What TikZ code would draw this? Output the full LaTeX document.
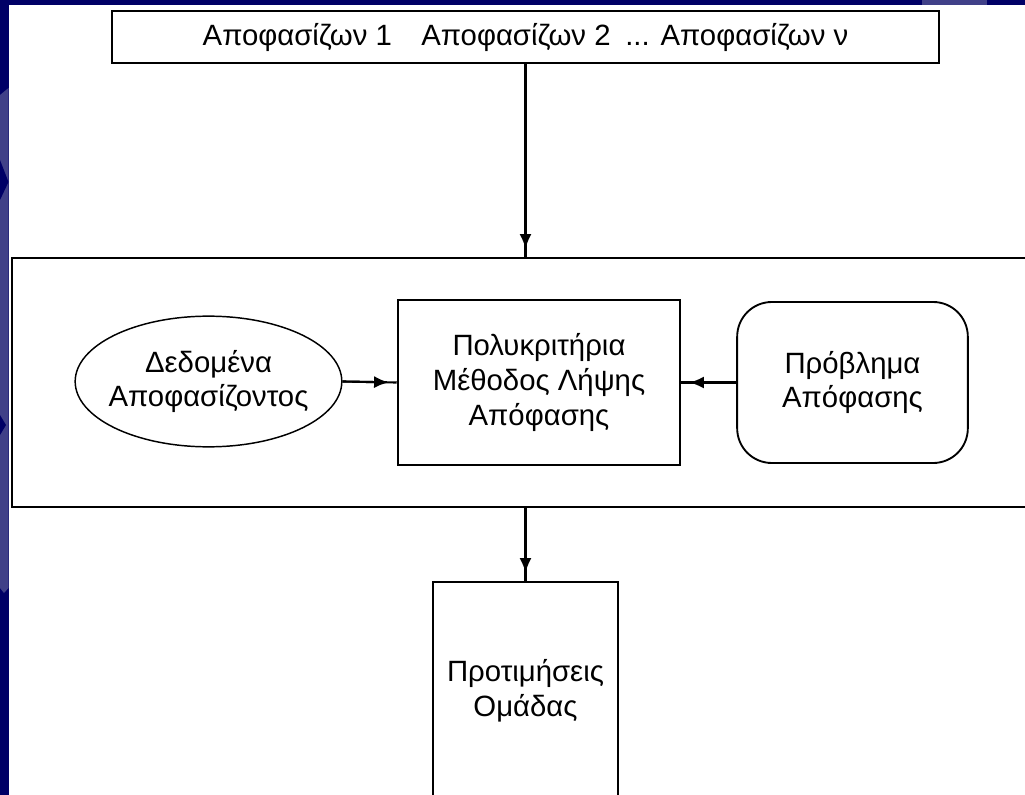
\documentclass[tikz,border=0pt]{standalone}
\usepackage{fontspec}
\setmainfont{Liberation Sans}
\usetikzlibrary{shapes.geometric,arrows.meta}
\definecolor{navy}{RGB}{0,0,102}
\definecolor{slideblue}{RGB}{64,64,136}

\begin{document}
\begin{tikzpicture}[x=0.75pt,y=-0.75pt]

	\tikzset{box/.style={draw,line width=1.9pt,align=center,inner sep=0pt,font=\fontsize{22}{26}\selectfont}}
	\tikzset{link/.style={line width=1.6pt}}
	\tikzset{head/.style={-{Latex[length=11pt,width=9pt]},shorten >=6pt}}

	\useasboundingbox (0,0) rectangle (1025,795);
	\fill[white] (0,0) rectangle (1025,795);

	% slide border
	\fill[navy] (0,0) rectangle (1025,5);
	\fill[navy] (0,0) rectangle (8.5,795);
	\fill[slideblue] (0,95) -- (8.5,88) -- (8.5,588) -- (4,593) -- (0,588) -- cycle;
	\fill[navy] (0,160) -- (8.5,182) -- (0,200) -- cycle;
	\fill[navy] (0,415) -- (6,425) -- (0,435) -- cycle;
	\fill[slideblue] (922,0) rectangle (987,5);

	% decision makers
	\node[box,minimum width=620pt,minimum height=39pt] (deciders) at (525.5,37) {Αποφασίζων 1\quad Αποφασίζων 2\enspace ... Αποφασίζων ν};

	% group system
	\node[box,minimum width=771pt,minimum height=186.75pt] (system) at (526,382.5) {};
	\node[box,ellipse,line width=1.1pt,inner xsep=-12pt,minimum width=200pt,minimum height=98pt] (data) at (208.5,381.5) {Δεδομένα\\Αποφασίζοντος};
	\node[box,minimum width=211.5pt,minimum height=123.75pt] (method) at (539,382.5) {Πολυκριτήρια\\Μέθοδος Λήψης\\Απόφασης};
	\node[box,rounded corners=26pt,line width=1.4pt,minimum width=173pt,minimum height=120.75pt] (problem) at (852.5,382.5) {Πρόβλημα\\Απόφασης};

	% group preferences
	\node[box,minimum width=138.75pt,minimum height=163.5pt] (prefs) at (525.5,691) {Προτιμήσεις\\Ομάδας};

	\draw[link] (deciders.south) -- (deciders.south |- system.north);
	\draw[link,head] (deciders.south) -- (deciders.south |- system.north);
	\draw[link] (data.east) -- (method.west);
	\draw[link,head] (data.east) -- (method.west);
	\draw[link] (problem.west) -- (method.east);
	\draw[link,head] (problem.west) -- (method.east);
	\draw[link] (system.south -| prefs.north) -- (prefs.north);
	\draw[link,head] (system.south -| prefs.north) -- (prefs.north);

\end{tikzpicture}
\end{document}
